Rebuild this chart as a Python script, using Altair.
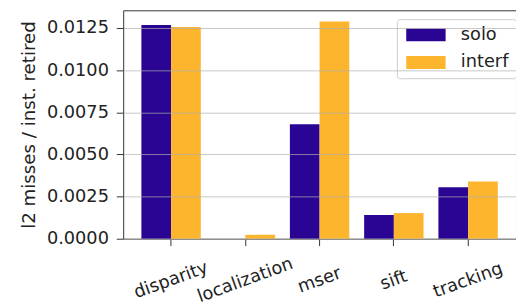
import altair as alt
import pandas as pd

categories = ["disparity", "localization", "mser", "sift", "tracking"]
series = ["solo", "interf"]
solo = [0.01268, 0.0, 0.00679, 0.00140, 0.00306]
interf = [0.01256, 0.00023, 0.01289, 0.00152, 0.00340]
y_ticks = [0.0, 0.0025, 0.005, 0.0075, 0.01, 0.0125]
colors = ["#2a0593", "#fdb52e"]

rows = []
for c, s, i in zip(categories, solo, interf):
    rows.append({"cat": c, "series": "solo", "val": s})
    rows.append({"cat": c, "series": "interf", "val": i})
df = pd.DataFrame(rows)

FONT = "DejaVu Sans"
FS = 18

chart = alt.Chart(df).mark_bar().encode(
    x=alt.X("cat:N", sort=categories,
            scale=alt.Scale(paddingInner=0.2, paddingOuter=0.245),
            axis=alt.Axis(title=None, labelAngle=-20, labelAlign="center",
                          labelBaseline="middle", labelPadding=35, tickSize=7,
                          tickColor="#333", labelColor="#222", domain=False,
                          labelFont=FONT, labelFontSize=FS)),
    xOffset=alt.XOffset("series:N", sort=series,
                        scale=alt.Scale(paddingInner=0, paddingOuter=0)),
    y=alt.Y("val:Q", scale=alt.Scale(domain=[0, 0.01355], nice=False, zero=True),
            axis=alt.Axis(title="l2 misses / inst. retired", values=y_ticks,
                          format=".4f", tickSize=7, labelPadding=8,
                          titlePadding=8, grid=True, gridColor="#b0b0b0",
                          gridOpacity=0.7, gridWidth=1, domain=False,
                          tickColor="#333", labelColor="#222", titleColor="#222",
                          labelFont=FONT, labelFontSize=FS, titleFont=FONT,
                          titleFontSize=18.5, titleFontWeight="normal", zindex=1)),
    color=alt.Color("series:N", sort=series,
                    scale=alt.Scale(domain=series, range=colors),
                    legend=alt.Legend(title=None, orient="none", legendX=278, legendY=9,
                                      symbolType="M-1,-1L5.154,-1L5.154,1L-1,1Z",
                                      symbolSize=169, symbolStrokeWidth=0,
                                      symbolOpacity=1,
                                      labelFont=FONT, labelFontSize=FS, labelColor="#222",
                                      labelOffset=40, rowPadding=10, padding=7,
                                      fillColor="rgba(255,255,255,0.8)",
                                      strokeColor="#cccccc", cornerRadius=3)),
).properties(
    width=399, height=232,
    autosize=alt.AutoSizeParams(type="none"),
    padding={"left": 117, "top": 0, "right": 0, "bottom": 66},
).configure_view(stroke="#333", strokeWidth=1)

chart.save("out.html", embed_options={"renderer": "svg", "actions": False})
